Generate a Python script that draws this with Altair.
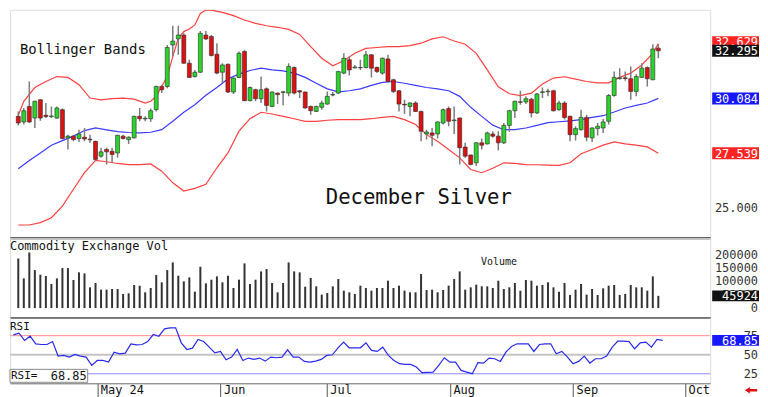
import altair as alt
import pandas as pd

FONT = "DejaVu Sans Mono"

# ---------------- data ----------------
opens = [29.25, 28.99, 29.71, 29.17, 30.02, 29.30, 29.24, 29.17, 29.56, 28.25,
         28.33, 28.22, 28.28, 28.19, 28.09, 27.40, 27.71, 27.63, 27.55, 28.33,
         28.17, 28.25, 29.25, 29.13, 29.14, 29.56, 30.64, 30.64, 32.57, 32.85,
         33.03, 31.72, 31.10, 31.30, 33.03, 32.96, 32.14, 31.30, 31.67, 30.38,
         31.06, 32.26, 29.98, 30.49, 30.07, 30.53, 29.71, 30.33, 30.36, 30.33,
         31.52, 30.44, 30.38, 29.71, 29.48, 29.67, 29.82, 30.24, 30.33, 31.26,
         31.88, 31.50, 31.52, 31.52, 32.11, 31.52, 31.26, 31.92, 30.95, 30.44,
         29.81, 29.71, 29.87, 29.48, 28.43, 28.48, 28.43, 28.94, 29.61, 29.05,
         29.17, 27.82, 27.45, 27.09, 28.02, 27.97, 28.43, 28.33, 28.02, 28.83,
         29.51, 29.93, 29.92, 30.05, 29.41, 30.36, 30.39, 30.44, 29.56, 29.87,
         29.25, 28.40, 28.63, 29.20, 28.25, 28.68, 28.71, 29.02, 30.22, 31.01,
         31.04, 31.00, 30.41, 31.06, 31.52, 30.95, 32.42]
highs = [29.48, 29.64, 30.87, 29.98, 30.05, 29.87, 29.71, 29.71, 29.61, 28.40,
         28.40, 28.63, 28.71, 28.40, 28.12, 27.79, 27.79, 27.79, 28.40, 28.40,
         28.33, 29.28, 29.64, 29.25, 29.61, 30.67, 30.72, 32.57, 33.46, 33.46,
         33.11, 31.88, 31.41, 33.22, 33.22, 33.03, 32.65, 31.72, 31.71, 31.06,
         32.26, 32.34, 30.64, 30.53, 31.10, 30.59, 30.41, 30.36, 30.44, 31.72,
         31.57, 30.47, 30.41, 29.76, 29.74, 29.98, 30.41, 30.38, 31.37, 32.18,
         32.03, 31.64, 31.88, 32.29, 32.14, 31.57, 31.98, 32.11, 31.00, 30.47,
         30.02, 29.90, 29.95, 29.51, 28.63, 28.71, 29.02, 29.61, 29.71, 29.71,
         29.20, 28.02, 27.48, 28.06, 28.22, 28.53, 28.56, 28.56, 28.94, 29.56,
         29.98, 30.44, 30.18, 30.10, 30.33, 30.59, 30.53, 30.49, 29.98, 29.95,
         29.28, 28.79, 29.56, 29.33, 28.74, 28.94, 29.14, 30.29, 31.34, 31.49,
         31.34, 31.57, 31.21, 31.72, 31.57, 32.60, 32.60]
lows = [28.83, 28.87, 28.94, 28.71, 29.05, 29.17, 29.17, 29.14, 28.17, 27.71,
        28.09, 28.06, 28.09, 28.02, 27.17, 27.32, 27.01, 27.09, 27.32, 28.17,
        27.97, 28.22, 29.02, 29.02, 28.99, 29.48, 30.33, 30.56, 32.03, 32.11,
        31.69, 31.03, 31.06, 31.27, 32.80, 32.03, 31.21, 30.79, 30.33, 30.29,
        31.03, 29.95, 29.95, 29.95, 29.87, 29.48, 29.67, 29.82, 29.76, 30.18,
        30.26, 30.10, 29.61, 29.33, 29.45, 29.56, 29.79, 30.18, 30.29, 31.21,
        31.15, 31.49, 31.41, 31.49, 31.06, 31.26, 31.18, 30.84, 30.33, 29.48,
        29.36, 29.25, 29.45, 28.09, 28.17, 27.86, 28.22, 28.87, 28.79, 28.43,
        27.01, 27.32, 26.98, 26.94, 27.71, 27.94, 28.25, 27.66, 27.97, 28.53,
        29.17, 29.79, 29.82, 29.20, 29.36, 30.10, 30.18, 29.48, 29.51, 29.10,
        28.09, 28.13, 28.59, 28.09, 28.06, 28.36, 28.48, 28.87, 30.16, 30.95,
        30.90, 30.02, 30.18, 31.03, 30.64, 30.93, 31.95]
closes = [28.94, 29.51, 28.99, 29.95, 29.17, 29.24, 29.27, 29.64, 28.22, 28.33,
          28.17, 28.43, 28.20, 28.16, 27.25, 27.60, 27.60, 27.48, 28.37, 28.22,
          28.28, 29.25, 29.14, 29.16, 29.51, 30.64, 30.49, 32.45, 32.75, 33.03,
          31.72, 31.06, 31.30, 33.11, 32.85, 32.08, 31.26, 31.64, 30.38, 31.03,
          32.18, 29.98, 30.59, 30.07, 30.49, 29.76, 30.38, 30.26, 30.39, 31.57,
          30.33, 30.38, 29.64, 29.51, 29.71, 29.87, 30.18, 30.27, 31.33, 31.95,
          31.41, 31.54, 31.51, 32.11, 31.49, 31.34, 31.95, 30.87, 30.41, 29.82,
          29.78, 29.87, 29.48, 28.56, 28.52, 28.37, 28.99, 29.56, 29.02, 29.08,
          27.79, 27.40, 27.01, 28.02, 27.91, 28.48, 28.33, 28.02, 28.83, 29.51,
          29.95, 29.90, 30.07, 29.41, 30.29, 30.39, 30.42, 29.51, 29.87, 29.20,
          28.40, 28.68, 29.20, 28.28, 28.71, 28.79, 28.99, 30.22, 31.06, 31.04,
          31.01, 30.41, 31.10, 31.49, 31.00, 32.38, 32.295]
volumes = [186600, 111700, 209100, 142900, 125500, 120500, 90500, 111700, 150400, 150400,
           105500, 134200, 130400, 78000, 94300, 69300, 69300, 71800, 71800, 53100,
           55500, 86800, 84300, 59300, 75500, 124200, 96800, 142900, 171600, 121700,
           100500, 115500, 61800, 155400, 93000, 106800, 119200, 96800, 121700, 75500,
           106800, 167900, 90500, 106800, 137900, 146700, 94300, 59300, 94300, 171600,
           137900, 134200, 80500, 113000, 81800, 50600, 56800, 81800, 109200, 65500,
           59300, 53100, 84300, 75500, 65500, 75500, 75500, 103000, 75500, 84300,
           65500, 59300, 59300, 127900, 68000, 69300, 59300, 68000, 84300, 109200,
           137900, 69300, 78000, 88000, 81800, 81800, 75500, 103000, 71800, 78000,
           94300, 65500, 105500, 103000, 84300, 86800, 96800, 78000, 61800, 94300,
           49300, 69300, 90500, 50600, 71800, 49300, 74300, 84300, 86800, 49300,
           53100, 86800, 78000, 78000, 65500, 119200, 45924]
rsi = [76.1, 78.3, 68.7, 74.3, 64.3, 63.4, 63.4, 67.3, 48.2, 49.1,
       46.9, 50.4, 48.2, 46.9, 36.0, 42.5, 42.5, 40.3, 53.4, 51.2,
       52.1, 64.3, 63.0, 63.4, 67.3, 76.5, 74.3, 83.9, 85.2, 85.2,
       65.6, 56.9, 58.6, 70.0, 67.3, 59.9, 52.5, 54.3, 43.4, 46.9,
       56.9, 42.5, 45.6, 43.8, 45.6, 41.6, 46.9, 46.0, 46.9, 56.5,
       46.9, 46.9, 41.2, 40.3, 41.6, 43.8, 49.1, 49.9, 59.1, 66.5,
       59.1, 59.1, 59.1, 65.6, 55.6, 54.3, 59.9, 49.1, 42.5, 38.2,
       37.3, 37.3, 33.8, 26.4, 26.8, 27.2, 36.0, 46.0, 40.3, 40.3,
       29.4, 27.2, 25.1, 39.5, 39.0, 45.6, 44.7, 41.2, 53.4, 60.8,
       64.3, 64.3, 64.3, 54.3, 63.4, 64.3, 64.3, 51.2, 54.3, 46.9,
       38.2, 41.2, 48.2, 39.0, 44.7, 44.7, 48.2, 59.9, 67.8, 67.8,
       67.3, 57.8, 65.6, 66.5, 59.9, 70.0, 68.85]

upper_idx = [0, 1, 3, 5, 7, 9, 11, 13, 15, 17, 19, 21, 23, 24, 25, 26, 27, 28, 29, 30,
             31, 32, 33, 34, 35, 37, 39, 41, 43, 45, 47, 49, 51, 53, 55, 57, 59, 61, 63, 65,
             67, 69, 71, 73, 75, 77, 79, 81, 83, 85, 87, 89, 91, 93, 95, 97, 99, 101, 103, 105,
             107, 109, 111, 113, 115, 116]
upper_val = [29.30, 29.95, 30.59, 30.87, 31.10, 31.06, 30.72, 30.10, 30.02, 30.07,
             30.10, 30.05, 29.87, 29.95, 30.18, 30.64, 31.10, 32.03, 32.88, 33.19,
             33.31, 33.50, 34.03, 34.19, 34.19, 34.08, 33.93, 33.73, 33.57, 33.46,
             33.39, 33.29, 33.06, 32.49, 31.95, 31.60, 31.83, 32.18, 32.41, 32.45,
             32.49, 32.49, 32.54, 32.65, 32.85, 32.95, 32.75, 32.60, 32.18, 31.41,
             30.62, 30.30, 30.21, 30.33, 30.75, 31.03, 31.09, 30.98, 30.87, 30.81,
             30.81, 31.06, 31.26, 31.64, 32.18, 32.629]
mid_idx = list(range(0, 117, 2))
mid_val = [26.81, 27.20, 27.55, 27.91, 28.12, 28.33, 28.59, 28.71, 28.62, 28.54,
           28.50, 28.48, 28.51, 28.63, 29.02, 29.44, 29.79, 30.23, 30.59, 31.00,
           31.21, 31.38, 31.49, 31.41, 31.36, 31.26, 31.06, 30.79, 30.53, 30.39,
           30.44, 30.53, 30.69, 30.83, 30.87, 30.79, 30.69, 30.59, 30.53, 30.44,
           30.18, 29.67, 29.25, 28.84, 28.63, 28.63, 28.71, 28.83, 28.96, 29.00,
           29.04, 29.10, 29.20, 29.28, 29.45, 29.64, 29.76, 29.87, 30.084]
lower_idx = list(range(0, 117, 2))
lower_val = [24.20, 24.20, 24.31, 24.54, 25.08, 25.86, 26.63, 27.20, 27.14, 27.06,
             27.01, 27.01, 27.04, 26.70, 26.16, 25.78, 25.90, 26.09, 26.86, 27.55,
             28.56, 29.14, 29.44, 29.36, 29.25, 29.14, 29.02, 29.02, 29.07, 29.10,
             29.10, 29.10, 29.14, 29.20, 29.25, 29.10, 28.87, 28.40, 28.09, 27.71,
             27.32, 26.78, 26.63, 26.84, 27.09, 27.06, 27.01, 27.00, 26.98, 26.97,
             27.09, 27.51, 27.71, 27.91, 28.06, 27.97, 27.91, 27.83, 27.539]

month_pos = [15, 37, 56, 78, 100, 120]
month_names = ["May 24", "Jun", "Jul", "Aug", "Sep", "Oct"]
price_ticks = [24 + 0.5 * k for k in range(21)]
price_labels = [25.0, 27.5, 30.0, 32.5]
vol_ticks = [0, 50000, 100000, 150000, 200000]
rsi_levels = [75, 50, 25]
rsi_level_colors = ["#ff8a8a", "#c4c4c4", "#8a8aff"]
rsi_level_widths = [1, 2, 1]

N = len(closes)
assert all(len(a) == N for a in (opens, highs, lows, volumes, rsi))
assert len(upper_idx) == len(upper_val) and len(mid_idx) == len(mid_val) and len(lower_idx) == len(lower_val)

days = list(range(N))
df = pd.DataFrame({"day": days, "open": opens, "high": highs, "low": lows,
                   "close": closes, "volume": volumes, "rsi": rsi})

# ---------------- layout ----------------
W = 703                      # plot width; right-hand labels fit in the remaining 49 px
BOX_X, BOX_X2, LAB_X = 705, 752, 751
H_PRICE, H_VOL, H_RSI = 229, 80, 66
xscale = alt.Scale(domain=[-0.6, 124.5], nice=False, zero=False)
price_scale = alt.Scale(domain=[23.602, 34.204], nice=False, zero=False)
vol_scale = alt.Scale(domain=[-35600, 264000], nice=False, zero=False)
rsi_scale = alt.Scale(domain=[12.5, 98.8], nice=False, zero=False)

bottom_dark = alt.Axis(labels=False, ticks=False, grid=False, domain=True, domainColor="#1a1a1a",
                       domainWidth=2, title=None, zindex=0)
label_expr = " : ".join(f"datum.value == {p} ? '{n}'" for p, n in zip(month_pos, month_names)) + " : ''"
month_axis = alt.Axis(values=month_pos, labelExpr=label_expr, tickSize=14, tickColor="#555555",
                      labelAlign="left", labelBaseline="top", labelPadding=-13, labelOffset=3,
                      labelFont=FONT, labelFontSize=12, labelColor="#111111", domainColor="#777777",
                      grid=False, title=None, labelFlush=False, labelOverlap=False, zindex=0)


def right_axis(values):
    return alt.Axis(orient="right", values=values, labels=False, tickSize=3, tickColor="#555555",
                    domainColor="#444444", grid=False, title=None, zindex=0)


price_axis = right_axis(price_ticks)
vol_axis = right_axis(vol_ticks)
rsi_axis = right_axis(rsi_levels)


def text_layer(t, x, y, size, align="left", color="#111111", baseline="alphabetic"):
    return alt.Chart(pd.DataFrame({"t": [t]})).mark_text(
        align=align, baseline=baseline, font=FONT, fontSize=size, color=color
    ).encode(x=alt.value(x), y=alt.value(y), text="t:N")


def axis_labels(values, scale, fmt):
    return alt.Chart(pd.DataFrame({"v": values})).mark_text(
        align="right", baseline="middle", font=FONT, fontSize=12, color="#333333"
    ).encode(x=alt.value(LAB_X), y=alt.Y("v:Q", scale=scale, axis=None),
             text=alt.Text("v:Q", format=fmt))


def value_box(value, color, scale, fmt, h=12, shift=0.0):
    base = alt.Chart(pd.DataFrame({"v": [value]}))
    rect = base.mark_rect(color=color, yOffset=shift - h / 2, y2Offset=shift + h / 2).encode(
        x=alt.value(BOX_X), x2=alt.value(BOX_X2),
        y=alt.Y("v:Q", scale=scale, axis=None), y2="v:Q")
    txt = base.mark_text(align="right", baseline="middle", font=FONT, fontSize=12,
                         color="white", yOffset=shift + 0.5).encode(
        x=alt.value(LAB_X), y=alt.Y("v:Q", scale=scale, axis=None),
        text=alt.Text("v:Q", format=fmt))
    return [rect, txt]


# ---------------- price panel ----------------
base = alt.Chart(df)
xp = alt.X("day:Q", scale=xscale, axis=bottom_dark)
wicks = base.mark_rule(color="#7c7c7c", strokeWidth=1.5, clip=True).encode(
    x=xp, y=alt.Y("low:Q", scale=price_scale, axis=price_axis), y2="high:Q")
bodies = base.mark_bar(size=4, stroke="#2b2b2b", strokeWidth=0.6, clip=True).encode(
    x=xp, y=alt.Y("open:Q", scale=price_scale, axis=price_axis), y2="close:Q",
    color=alt.condition(alt.datum.close >= alt.datum.open, alt.value("#2ad42a"), alt.value("#dd1111")))


def band(idx, vals, color):
    return alt.Chart(pd.DataFrame({"day": idx, "v": vals})).mark_line(
        color=color, strokeWidth=1.2, clip=True).encode(
        x=xp, y=alt.Y("v:Q", scale=price_scale, axis=price_axis))


price_layers = [band(upper_idx, upper_val, "#ff4040"), band(lower_idx, lower_val, "#ff4040"),
                band(mid_idx, mid_val, "#3b3bff"), wicks, bodies,
                text_layer("Bollinger Bands", 10, 44, 14),
                text_layer("December Silver", 317, 195, 20.7),
                axis_labels(price_labels, price_scale, ".3f")]
price_layers += value_box(upper_val[-1], "#ff2424", price_scale, ".3f", h=10, shift=-2.5)
price_layers += value_box(closes[-1], "#111111", price_scale, ".3f", h=12)
price_layers += value_box(mid_val[-1], "#1616ff", price_scale, ".3f", h=12)
price_layers += value_box(lower_val[-1], "#ff2424", price_scale, ".3f", h=12)
price = alt.layer(*price_layers).properties(width=W, height=H_PRICE)

# ---------------- volume panel ----------------
xv = alt.X("day:Q", scale=xscale, axis=bottom_dark)
vbars = base.mark_bar(size=2, color="#333333").encode(
    x=xv, y=alt.Y("volume:Q", scale=vol_scale, axis=vol_axis), y2=alt.datum(0))
vol_layers = [vbars, text_layer("Commodity Exchange Vol", 0, 12, 12),
              text_layer("Volume", 473, 27, 10),
              axis_labels(vol_ticks, vol_scale, "d")]
vol_layers += value_box(volumes[-1], "#111111", vol_scale, "d", h=11)
vol = alt.layer(*vol_layers).properties(width=W, height=H_VOL)

# ---------------- RSI panel ----------------
xr = alt.X("day:Q", scale=xscale, axis=month_axis)
levels = alt.Chart(pd.DataFrame({"lvl": rsi_levels, "c": rsi_level_colors, "w": rsi_level_widths})).mark_rule().encode(
    y=alt.Y("lvl:Q", scale=rsi_scale, axis=rsi_axis),
    color=alt.Color("c:N", scale=None), strokeWidth=alt.StrokeWidth("w:Q", scale=None))
rsi_line = base.mark_line(color="#2a2aee", strokeWidth=1.2, clip=True).encode(
    x=xr, y=alt.Y("rsi:Q", scale=rsi_scale, axis=rsi_axis))
rsi_box = alt.Chart(pd.DataFrame({"k": [1]})).mark_rect(fill="white", stroke="#8a8a8a", strokeWidth=1).encode(
    x=alt.value(0), x2=alt.value(78), y=alt.value(52), y2=alt.value(65))
arrow = alt.Chart(pd.DataFrame({"k": [1]})).mark_point(
    shape="M-1,0L-0.2,-0.55L-0.2,-0.2L1,-0.2L1,0.2L-0.2,0.2L-0.2,0.55Z",
    filled=True, size=150, color="#e01010", opacity=1).encode(x=alt.value(744), y=alt.value(73))
rsi_layers = [levels, rsi_line, text_layer("RSI", 0, 13, 11), rsi_box,
              text_layer("RSI=", 1, 59, 11, baseline="middle"),
              text_layer(f"{rsi[-1]:.2f}", 77, 59, 12, align="right", baseline="middle"),
              axis_labels(rsi_levels, rsi_scale, "d"), arrow]
rsi_layers += value_box(rsi[-1], "#1616ff", rsi_scale, ".2f", h=11)
rsi_chart = alt.layer(*rsi_layers).properties(width=W, height=H_RSI)

chart = alt.vconcat(price, vol, rsi_chart, spacing=0, bounds="flush").properties(
    padding=0, background="white"
).configure_view(strokeWidth=0).configure(font=FONT)

chart.save("out.html", embed_options={"renderer": "svg", "actions": False})
